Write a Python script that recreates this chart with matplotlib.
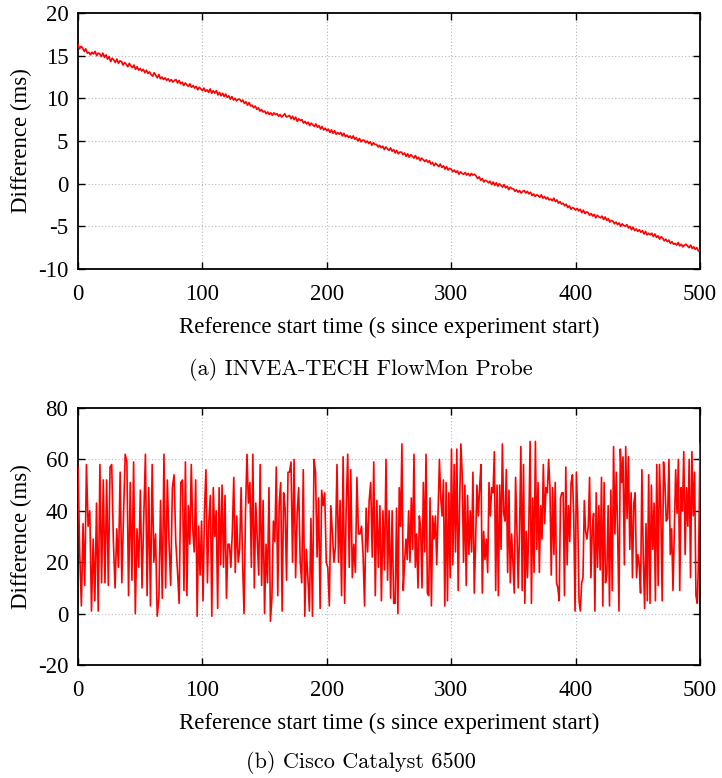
import numpy as np
import matplotlib
matplotlib.use("Agg")
import matplotlib.pyplot as plt

# (a) INVEA-TECH FlowMon Probe: difference in ms, one sample every 1.25 s
invea_step = 1.25
invea_diff = [
    16.3, 15.8, 16.1, 15.9, 15.5, 15.8, 15.3, 15.4, 15.1, 15.4, 15.2, 15.5, 15.0, 15.3, 15.2, 14.9,
    15.3, 14.8, 15.1, 14.6, 14.9, 14.3, 14.7, 14.5, 14.2, 14.6, 14.1, 14.4, 14.3, 13.9, 14.2, 14.0,
    13.7, 14.1, 13.8, 13.6, 13.9, 13.4, 13.7, 13.3, 13.5, 13.2, 13.4, 13.0, 13.3, 12.9, 13.1, 12.8,
    12.6, 13.0, 12.7, 12.4, 12.8, 12.3, 12.5, 12.2, 12.4, 12.1, 12.3, 12.0, 12.2, 11.9, 12.1, 12.2,
    11.8, 12.1, 11.7, 11.9, 11.5, 11.8, 11.6, 11.4, 11.7, 11.3, 11.5, 11.2, 11.4, 11.0, 11.3, 11.1,
    10.9, 11.2, 10.8, 11.0, 10.7, 11.1, 10.6, 10.9, 10.6, 10.9, 10.4, 10.7, 10.3, 10.6, 10.2, 10.5,
    10.1, 10.3, 9.9, 10.2, 9.8, 10.0, 9.7, 9.9, 9.9, 9.6, 9.8, 9.4, 9.6, 9.2, 9.5, 9.1,
    9.2, 8.9, 9.1, 8.7, 8.9, 8.5, 8.7, 8.4, 8.5, 8.2, 8.4, 8.1, 8.3, 8.0, 8.3, 8.1,
    8.2, 7.9, 8.1, 7.8, 8.0, 8.2, 7.8, 7.9, 8.0, 7.6, 7.9, 7.5, 7.8, 7.3, 7.6, 7.4,
    7.5, 7.1, 7.3, 7.0, 7.2, 6.8, 7.1, 6.9, 6.7, 7.0, 6.6, 6.8, 6.4, 6.7, 6.3, 6.5,
    6.2, 6.4, 6.0, 6.3, 5.9, 6.2, 5.8, 6.0, 5.8, 6.0, 5.6, 5.9, 5.5, 5.7, 5.4, 5.6,
    5.3, 5.6, 5.2, 5.4, 5.0, 5.3, 4.9, 5.1, 5.1, 4.8, 5.0, 4.7, 4.9, 4.5, 4.8, 4.6,
    4.6, 4.3, 4.5, 4.2, 4.4, 4.0, 4.3, 4.1, 3.9, 4.2, 3.8, 4.0, 3.6, 3.9, 3.5, 3.7,
    3.7, 3.4, 3.6, 3.2, 3.5, 3.1, 3.4, 3.2, 3.0, 3.3, 2.9, 3.1, 2.7, 3.0, 2.8, 2.6,
    2.8, 2.5, 2.7, 2.3, 2.5, 2.1, 2.4, 2.2, 2.0, 2.3, 1.9, 2.1, 1.7, 2.0, 1.6, 1.8,
    1.7, 1.4, 1.6, 1.3, 1.5, 1.1, 1.4, 1.2, 1.1, 1.3, 1.0, 1.2, 0.9, 1.2, 1.0, 1.1,
    0.9, 0.6, 0.8, 0.4, 0.6, 0.2, 0.4, 0.3, 0.1, 0.3, -0.1, 0.2, -0.2, 0.1, -0.3, 0.0,
    -0.2, -0.4, -0.1, -0.5, -0.3, -0.7, -0.4, -0.6, -0.6, -0.9, -0.7, -1.0, -0.8, -1.1, -0.9, -0.8,
    -1.1, -0.9, -1.2, -1.0, -1.4, -1.2, -1.5, -1.3, -1.4, -1.6, -1.3, -1.7, -1.5, -1.8, -1.6, -1.9,
    -1.8, -2.0, -1.7, -2.1, -1.9, -2.3, -2.1, -2.4, -2.3, -2.6, -2.4, -2.8, -2.6, -3.0, -2.8, -2.9,
    -3.1, -2.9, -3.2, -3.0, -3.4, -3.1, -3.5, -3.3, -3.4, -3.7, -3.5, -3.8, -3.6, -4.0, -3.7, -3.9,
    -4.0, -3.8, -4.2, -3.9, -4.3, -4.1, -4.5, -4.3, -4.4, -4.7, -4.5, -4.8, -4.6, -5.0, -4.7, -4.9,
    -5.0, -4.8, -5.2, -5.0, -5.4, -5.1, -5.5, -5.3, -5.6, -5.4, -5.7, -5.5, -5.9, -5.6, -6.0, -5.8,
    -6.0, -5.8, -6.2, -5.9, -6.3, -6.1, -6.5, -6.2, -6.4, -6.7, -6.5, -6.8, -6.6, -7.0, -6.8, -7.1,
    -7.0, -7.2, -6.9, -7.3, -7.1, -7.4, -7.2, -7.1, -7.3, -7.5, -7.2, -7.6, -7.4, -7.7, -7.5, -7.9,
    -7.8,
]

# (b) Cisco Catalyst 6500: read in six time windows (edges in s)
cisco_edges = [0, 84, 170, 255, 339, 424, 500]
cisco_seg1 = [57, 24, 3, 35, 11, 58, 34, 40, 1, 29, 5, 43, 1, 58, 12, 52, 12, 52, 11, 57,
              58, 28, 10, 33, 18, 55, 12, 38, 62, 59, 7, 51, 13, 59, 0, 33, 18, 48, 10, 37,
              62, 7, 49, 3, 58, 20, 31, -1, 6, 44, 6, 62, 10, 52, 28, 11, 49, 54, 28, 17, 4, 51]
cisco_seg2 = [52, 9, 59, 7, 42, 27, 58, 33, 24, 52, -1, 34, 15, 36, 5, 40, 56, 12, 36, 46,
              -1, 49, 30, 40, 2, 49, 19, 50, 18, 46, 6, 27, 27, 18, 32, 53, 16, 38, 20, 25,
              49, 20, 0, 40, 62, 43, 51, 18, 62, 10, 43, 29, 15, 58, 11, 44, 0, 27, 12, 49,
              -3, 6, 36, 28, 57, 7, 43, 51, 1, 47, 41, 13, 55]
cisco_seg3 = [55, 59, 20, 60, 14, 39, 49, 20, 12, 56, -1, 25, 14, 1, 37, -1, 60, 55, 22, 45,
              2, 48, 42, 47, 20, 18, 3, 42, 31, 20, 26, 58, 20, 44, 7, 61, 4, 41, 62, 18,
              56, 14, 27, 16, 53, 31, 31, 34, 23, 3, 41, 24, 44, 51, 22, 59, 7, 44, 18, 42,
              5, 40, 17, 60, 13, 40, 6, 40, 4]
cisco_seg4 = [4, 41, 0, 49, 34, 66, 9, 20, 29, 21, 40, 20, 45, 25, 62, 18, 31, 10, 38, 33,
              10, 51, 24, 62, 8, 7, 45, 3, 38, 29, 38, 19, 39, 60, 45, 38, 52, 3, 51, 5,
              47, 14, 64, 19, 58, 24, 64, 9, 41, 66, 54, 20, 50, 11, 46, 23, 40, 24, 55, 8,
              28, 50, 38, 49, 58, 8, 32, 21, 29, 16, 51, 38, 49, 47, 63, 9, 50, 7]
cisco_seg5 = [50, 25, 66, 39, 36, 56, 16, 48, 12, 31, 20, 8, 53, 33, 10, 32, 65, 9, 58, 4,
              32, 14, 34, 67, 4, 45, 16, 67, 25, 51, 16, 42, 29, 58, 35, 49, 47, 60, 49, 15,
              49, 23, 51, 12, 10, 5, 45, 47, 47, 7, 57, 19, 42, 28, 51, 54, 38, 1, 55, 39,
              5, 1, 12, 14, 44, 32, 29, 34, 53, 14, 32, 39, 1, 47, 18, 42, 17, 53, 3, 51]
cisco_seg6 = [12, 15, 42, 3, 48, 9, 65, 31, 55, 33, 1, 64, 51, 61, 19, 65, 37, 61, 25, 47,
              14, 43, 47, 14, 23, 19, 8, 56, 22, 2, 35, 5, 54, 4, 50, 25, 43, 5, 58, 11,
              58, 40, 5, 59, 51, 36, 37, 60, 23, 33, 9, 33, 56, 39, 60, 9, 49, 40, 63, 23,
              49, 34, 60, 14, 63, 38, 55, 7, 4, 23, 66]

xlabel = "Reference start time (s since experiment start)"
ylabel = "Difference (ms)"
captions = ["(a) INVEA-TECH FlowMon Probe", "(b) Cisco Catalyst 6500"]

invea_t = np.arange(len(invea_diff)) * invea_step

segs = [cisco_seg1, cisco_seg2, cisco_seg3, cisco_seg4, cisco_seg5, cisco_seg6]
cisco_t = []
cisco_diff = []
for k, seg in enumerate(segs):
    last = k == len(segs) - 1
    cisco_t.extend(np.linspace(cisco_edges[k], cisco_edges[k + 1], len(seg), endpoint=last))
    cisco_diff.extend(seg)

plt.rcParams['font.family'] = ['Liberation Serif', 'DejaVu Serif']
plt.rcParams['axes.unicode_minus'] = False
fig = plt.figure(figsize=(7.22, 7.78), dpi=100)

W, H = 722.0, 778.0
ax1 = fig.add_axes([78 / W, 1 - 269 / H, 622 / W, 256 / H])
ax2 = fig.add_axes([78 / W, 1 - 665 / H, 622 / W, 257 / H])

ax1.plot(invea_t, invea_diff, color='#ff0000', lw=1.2, zorder=3)
ax2.plot(cisco_t, cisco_diff, color='#ff0000', lw=1.2, zorder=3)

ax1.set_ylim(-10, 20)
ax1.set_yticks(range(-10, 21, 5))
ax2.set_ylim(-20, 80)
ax2.set_yticks(range(-20, 81, 20))

for ax, cap, cy in [(ax1, captions[0], 370), (ax2, captions[1], 762)]:
    ax.set_xlim(0, 500)
    ax.set_xticks(range(0, 501, 100))
    ax.grid(True, color='#b8b8b8', linestyle=(0, (1, 2)), linewidth=0.8, zorder=0)
    ax.tick_params(direction='in', length=5, width=1, top=True, right=True,
                   labelsize=16.5, pad=7)
    ax.tick_params(axis='x', pad=11)
    for sp in ax.spines.values():
        sp.set_linewidth(1.3)
    ax.set_xlabel(xlabel, fontsize=16.5, labelpad=8)
    ax.set_ylabel(ylabel, fontsize=16.5)
    ax.yaxis.set_label_coords(-46 / 622, 0.5)
    # captions sit at the figure centre, not the axes centre
    fig.text(0.5, 1 - cy / H, cap, ha='center', va='center',
             fontsize=16, family=['cmr10', 'DejaVu Serif'])

fig.savefig("out.png", dpi=100)
